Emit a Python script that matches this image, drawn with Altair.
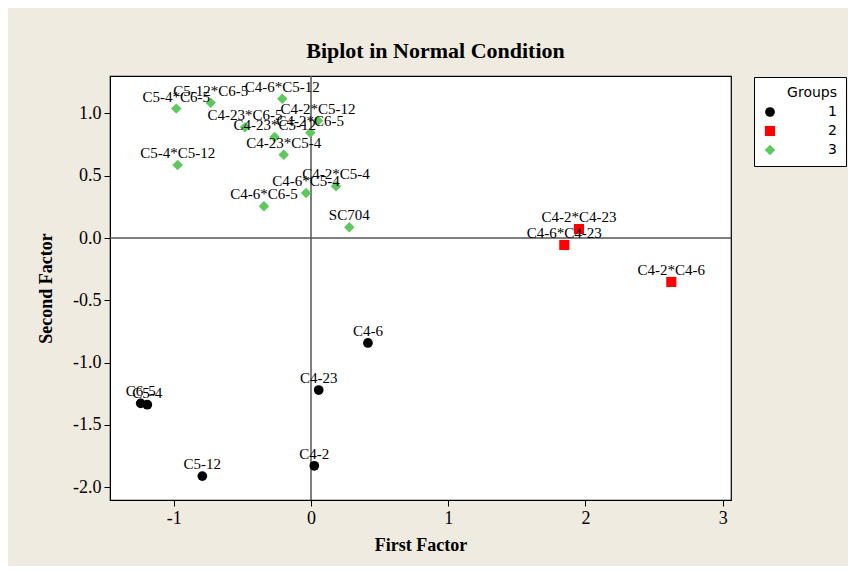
import altair as alt
import pandas as pd

names = ["C4-6", "C4-23", "C4-2", "C5-12", "C6-5", "C5-4",
         "C4-2*C4-23", "C4-6*C4-23", "C4-2*C4-6",
         "C5-4*C6-5", "C5-12*C6-5", "C4-6*C5-12", "C4-2*C5-12", "C4-2*C6-5",
         "C4-23*C6-5", "C4-23*C5-12", "C4-23*C5-4", "C5-4*C5-12", "C4-2*C5-4",
         "C4-6*C5-4", "C4-6*C6-5", "SC704"]
groups = ["1"] * 6 + ["2"] * 3 + ["3"] * 13
first_factor = [0.415, 0.056, 0.024, -0.792, -1.241, -1.193,
                1.953, 1.846, 2.626,
                -0.982, -0.731, -0.209, 0.051, -0.005,
                -0.481, -0.265, -0.199, -0.972, 0.182,
                -0.036, -0.343, 0.279]
second_factor = [-0.843, -1.221, -1.829, -1.912, -1.328, -1.339,
                 0.072, -0.056, -0.353,
                 1.039, 1.087, 1.119, 0.942, 0.846,
                 0.889, 0.811, 0.669, 0.586, 0.415,
                 0.361, 0.255, 0.086]

df = pd.DataFrame({"name": names, "Groups": groups, "x": first_factor, "y": second_factor})

group_domain = ["1", "2", "3"]
group_colors = ["#000000", "#FF0000", "#5DC85D"]
group_shapes = ["circle", "square", "diamond"]
group_sizes = [95, 110, 175]

x_domain = [-1.465, 3.061]
y_domain = [-2.104, 1.301]
x_ticks = [-1, 0, 1, 2, 3]
y_ticks = [-2.0, -1.5, -1.0, -0.5, 0.0, 0.5, 1.0]

serif = "Liberation Serif"
hyphen_expr = "replace(datum.label, '\u2212', '-')"

xs = alt.X("x:Q", title="First Factor",
           scale=alt.Scale(domain=x_domain, nice=False, zero=False),
           axis=alt.Axis(values=x_ticks, format="d", grid=False, labelExpr=hyphen_expr))
ys = alt.Y("y:Q", title="Second Factor",
           scale=alt.Scale(domain=y_domain, nice=False, zero=False),
           axis=alt.Axis(values=y_ticks, format=".1f", grid=False, labelExpr=hyphen_expr))

zero_df = pd.DataFrame({"z": [0]})
vline = alt.Chart(zero_df).mark_rule(color="#555555", strokeWidth=1.5).encode(
    x=alt.X("z:Q", scale=alt.Scale(domain=x_domain, nice=False, zero=False)))
hline = alt.Chart(zero_df).mark_rule(color="#555555", strokeWidth=1.5).encode(
    y=alt.Y("z:Q", scale=alt.Scale(domain=y_domain, nice=False, zero=False)))

points = alt.Chart(df).mark_point(filled=True, opacity=1).encode(
    x=xs, y=ys,
    color=alt.Color("Groups:N", scale=alt.Scale(domain=group_domain, range=group_colors),
                    legend=alt.Legend(title="Groups")),
    shape=alt.Shape("Groups:N", scale=alt.Scale(domain=group_domain, range=group_shapes)),
    size=alt.Size("Groups:N", scale=alt.Scale(domain=group_domain, range=group_sizes)),
)

labels = alt.Chart(df).mark_text(font=serif, fontSize=15, baseline="bottom", dy=-4, color="black").encode(
    x="x:Q", y="y:Q", text="name:N")

chart = alt.layer(vline, hline, points, labels).properties(
    width=621, height=424,
    autosize=alt.AutoSizeParams(type="none"),
    padding={"left": 102, "top": 68, "right": 117, "bottom": 66},
    background="#EFEBE0",
    title=alt.Title("Biplot in Normal Condition", font=serif, fontSize=22, fontWeight="bold",
                    color="black", offset=12, dx=15),
).configure_view(fill="white", stroke="black", strokeWidth=1.2).configure_axis(
    domainColor="black", tickColor="black", tickSize=6, labelFont=serif, labelFontSize=18,
    labelColor="black", titleFont=serif, titleFontSize=18, titleFontWeight="bold", titleColor="black",
    labelPadding=3,
).configure_axisY(titlePadding=17).configure_axisX(titlePadding=9).configure_legend(
    orient="none", legendX=644, legendY=1, fillColor="white", strokeColor="black", padding=9,
    titleFont="DejaVu Sans", titleFontSize=14, titleFontWeight="normal", titleColor="black",
    titleAnchor="end", titleAlign="right",
    labelFont="DejaVu Sans", labelFontSize=14, labelColor="black", labelAlign="right", labelOffset=60,
    rowPadding=5,
)

chart.save("out.html", embed_options={"renderer": "svg", "actions": False})
